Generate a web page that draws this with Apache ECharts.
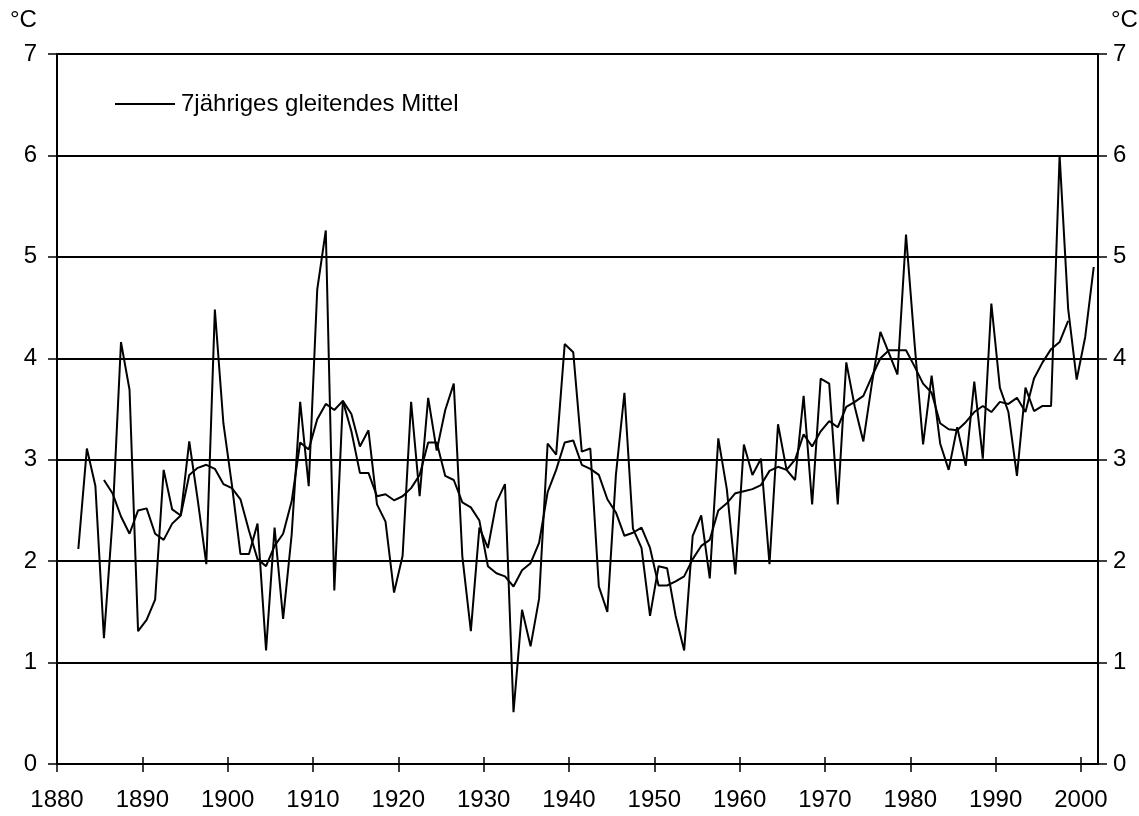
<!DOCTYPE html>
<html>
<head>
<meta charset="utf-8">
<style>
  html, body { margin: 0; padding: 0; background: #fff; }
  #chart { width: 1139px; height: 816px; }
</style>
<script src="https://cdn.jsdelivr.net/npm/echarts@6/dist/echarts.min.js"></script>
</head>
<body>
<div id="chart"></div>
<script>
// ---- data ----
const firstYear = 1882;
const annualValues = [
  2.12, 3.11, 2.74, 1.24, 2.40, 4.16, 3.69, 1.31,
  1.42, 1.62, 2.90, 2.51, 2.45, 3.18, 2.60, 1.97, 4.48, 3.36,
  2.75, 2.07, 2.07, 2.37, 1.12, 2.33, 1.43, 2.26, 3.57, 2.74,
  4.68, 5.26, 1.71, 3.58, 3.45, 3.13, 3.29, 2.56, 2.39, 1.69,
  2.05, 3.57, 2.64, 3.61, 3.09, 3.49, 3.75, 2.05, 1.31, 2.33,
  2.13, 2.58, 2.76, 0.51, 1.52, 1.16, 1.63, 3.16, 3.05, 4.14,
  4.06, 3.08, 3.11, 1.75, 1.50, 2.85, 3.66, 2.32, 2.13, 1.46,
  1.95, 1.93, 1.46, 1.12, 2.25, 2.45, 1.83, 3.21, 2.71, 1.87,
  3.15, 2.85, 3.01, 1.97, 3.35, 2.90, 2.80, 3.63, 2.56, 3.80,
  3.75, 2.56, 3.96, 3.52, 3.18, 3.75, 4.26, 4.05, 3.84, 5.22,
  4.15, 3.15, 3.83, 3.16, 2.90, 3.32, 2.94, 3.77, 3.01, 4.54,
  3.71, 3.47, 2.84, 3.71, 3.48, 3.53, 3.53, 6.00, 4.49, 3.79,
  4.21, 4.90
];
const maFirstYear = 1885;
const movingAvgValues = [
  2.80, 2.67, 2.44, 2.27, 2.50,
  2.52, 2.27, 2.21, 2.37, 2.45, 2.85, 2.92, 2.95, 2.91, 2.76,
  2.72, 2.61, 2.30, 2.02, 1.95, 2.15, 2.27, 2.59, 3.17, 3.10,
  3.40, 3.55, 3.49, 3.58, 3.28, 2.87, 2.87, 2.64, 2.66, 2.60,
  2.64, 2.72, 2.85, 3.17, 3.17, 2.84, 2.80, 2.58, 2.53, 2.40,
  1.95, 1.88, 1.85, 1.75, 1.91, 1.98, 2.18, 2.68, 2.90, 3.17,
  3.19, 2.95, 2.91, 2.85, 2.61, 2.48, 2.25, 2.28, 2.33, 2.13,
  1.76, 1.76, 1.80, 1.85, 2.02, 2.15, 2.21, 2.50, 2.57, 2.67,
  2.69, 2.71, 2.75, 2.89, 2.93, 2.90, 3.00, 3.25, 3.13, 3.28,
  3.38, 3.32, 3.52, 3.57, 3.63, 3.82, 4.00, 4.08, 4.08, 4.08,
  3.92, 3.75, 3.66, 3.36, 3.30, 3.29, 3.37, 3.47, 3.53, 3.47,
  3.57, 3.55, 3.61, 3.47, 3.80, 3.96, 4.09, 4.16, 4.37
];
const xTickLabels = [1880, 1890, 1900, 1910, 1920, 1930, 1940, 1950, 1960, 1970, 1980, 1990, 2000];
const yTickLabels = [0, 1, 2, 3, 4, 5, 6, 7];
const unitLabel = '°C';
const legendLabel = '7jähriges gleitendes Mittel';

// each annual value is drawn at the middle of its year
const annualData = annualValues.map((v, i) => [firstYear + i + 0.5, v]);
const maData = movingAvgValues.map((v, i) => [maFirstYear + i + 0.5, v]);

const FONT = '"Liberation Sans", Arial, sans-serif';
const FS = 24;

const chart = echarts.init(document.getElementById('chart'), null, { renderer: 'canvas' });
const yCommon = {
  type: 'value',
  min: yTickLabels[0],
  max: yTickLabels[yTickLabels.length - 1],
  interval: 1,
  axisLine: { show: true, lineStyle: { color: '#000', width: 2 } },
  axisTick: { show: true, inside: false, length: 9, lineStyle: { color: '#000', width: 1.5 } },
  axisLabel: { color: '#000', fontSize: FS, fontFamily: FONT }
};
const xCommon = {
  type: 'value',
  min: xTickLabels[0],
  max: 2002,
  gridIndex: 0,
  position: 'bottom',
  splitLine: { show: false }
};
chart.setOption({
  animation: false,
  backgroundColor: '#fff',
  grid: { left: 57, right: 41, top: 54, bottom: 52, containLabel: false },
  legend: {
    data: [legendLabel],
    left: 110,
    top: 87,
    icon: 'rect',
    itemWidth: 60,
    itemHeight: 2,
    itemGap: 10,
    textStyle: { color: '#000', fontSize: FS, fontFamily: FONT, padding: [0, 0, 0, 1] },
    itemStyle: { color: '#000' },
    selectedMode: false
  },
  xAxis: [
    Object.assign({}, xCommon, {
      axisLine: { show: true, onZero: false, lineStyle: { color: '#000', width: 2 } },
      axisTick: { show: true, inside: false, length: 8, customValues: xTickLabels, lineStyle: { color: '#000', width: 1.5 } },
      axisLabel: {
        color: '#000', fontSize: FS, fontFamily: FONT, margin: 24, customValues: xTickLabels,
        formatter: v => String(v)
      }
    }),
    Object.assign({}, xCommon, {
      axisLine: { show: false, onZero: false },
      axisTick: { show: true, inside: true, length: 7, customValues: xTickLabels, lineStyle: { color: '#000', width: 1.5 } },
      axisLabel: { show: false }
    })
  ],
  yAxis: [
    Object.assign({}, yCommon, {
      position: 'left',
      splitLine: { show: true, lineStyle: { color: '#000', width: 1.8 } },
      axisLabel: Object.assign({}, yCommon.axisLabel, { margin: 20 })
    }),
    Object.assign({}, yCommon, {
      position: 'right',
      splitLine: { show: false },
      axisLabel: Object.assign({}, yCommon.axisLabel, { margin: 15 })
    })
  ],
  graphic: [
    { type: 'text', left: 10, top: 8, style: { text: unitLabel, fill: '#000', font: FS + 'px ' + FONT } },
    { type: 'text', left: 1111, top: 8, style: { text: unitLabel, fill: '#000', font: FS + 'px ' + FONT } }
  ],
  series: [
    {
      name: 'Jahresmittel',
      type: 'line',
      xAxisIndex: 0,
      yAxisIndex: 0,
      data: annualData,
      showSymbol: false,
      symbol: 'none',
      lineStyle: { color: '#000', width: 2 },
      itemStyle: { color: '#000' },
      silent: true
    },
    {
      name: legendLabel,
      type: 'line',
      xAxisIndex: 0,
      yAxisIndex: 0,
      data: maData,
      showSymbol: false,
      symbol: 'none',
      lineStyle: { color: '#000', width: 2 },
      itemStyle: { color: '#000' },
      silent: true
    }
  ]
});
</script>
</body>
</html>
